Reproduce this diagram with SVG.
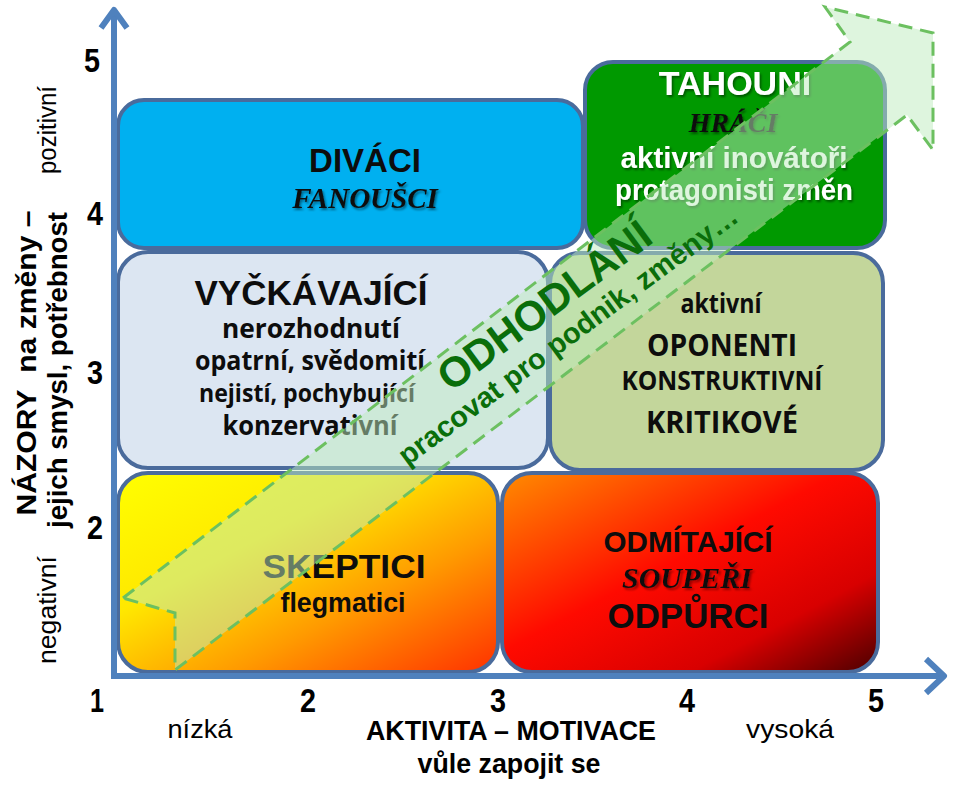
<svg xmlns="http://www.w3.org/2000/svg" width="960" height="792" viewBox="0 0 960 792">
<defs>
<linearGradient id="gSk" x1="0" y1="0" x2="1" y2="1">
<stop offset="0" stop-color="#ffff00"/>
<stop offset="0.35" stop-color="#ffe800"/>
<stop offset="0.65" stop-color="#ff9a00"/>
<stop offset="1" stop-color="#ff3000"/>
</linearGradient>
<linearGradient id="gOd" x1="0" y1="0" x2="1" y2="1">
<stop offset="0" stop-color="#ff8c00"/>
<stop offset="0.45" stop-color="#ff0a00"/>
<stop offset="0.75" stop-color="#d80000"/>
<stop offset="1" stop-color="#4a0000"/>
</linearGradient>
<filter id="sh" x="-10%" y="-30%" width="130%" height="170%">
<feDropShadow dx="1.5" dy="2" stdDeviation="1" flood-color="#000" flood-opacity="0.45"/>
</filter>
<filter id="shr" x="-10%" y="-30%" width="130%" height="170%">
<feDropShadow dx="2" dy="2" stdDeviation="1" flood-color="#800000" flood-opacity="0.8"/>
</filter>
</defs>
<style>
.box{stroke:#4a6b9c;stroke-width:4}
.ar{font-family:"Liberation Sans",Arial,sans-serif;font-weight:bold;text-anchor:middle;fill:#0d0d0d}
.ca{font-family:"Open Sans","Liberation Sans",sans-serif;font-weight:bold;text-anchor:middle;fill:#0d0d0d}
.tm{font-family:"Liberation Serif","Times New Roman",serif;font-weight:bold;font-style:italic;text-anchor:middle;fill:#111}
.wh{fill:#ffffff}
.ax{fill:none;stroke:#4f81bd;stroke-width:6;stroke-linejoin:round}
.num{font-family:"Liberation Sans",Arial,sans-serif;font-weight:bold;font-size:34px;text-anchor:middle;fill:#000}
.lab{font-family:"Liberation Sans",Arial,sans-serif;font-size:25px;text-anchor:middle;fill:#000}
.labb{font-family:"Liberation Sans",Arial,sans-serif;font-size:27px;font-weight:bold;text-anchor:middle;fill:#000}
.dg{font-family:"Liberation Sans",Arial,sans-serif;font-weight:bold;text-anchor:middle;fill:#0a6e0a}
</style>

<g id="divaci">
<rect class="box" x="118" y="100" width="465" height="148" rx="26" fill="#00b0f0"/>
<text class="ar" x="365" y="172" font-size="33">DIVÁCI</text>
<text class="tm" x="365" y="208" font-size="29" filter="url(#sh)">FANOUŠCI</text>
</g>

<g id="tahouni">
<rect class="box" x="585" y="62" width="300" height="186" rx="28" fill="#009900"/>
<text class="ar wh" x="735" y="95" font-size="34" filter="url(#sh)">TAHOUNI</text>
<text class="tm" x="733" y="132" font-size="28" filter="url(#sh)">HRÁČI</text>
<text class="ar wh" x="734" y="168" font-size="29" textLength="227" lengthAdjust="spacingAndGlyphs" filter="url(#sh)">aktivní inovátoři</text>
<text class="ar wh" x="734" y="200" font-size="29" textLength="238" lengthAdjust="spacingAndGlyphs" filter="url(#sh)">protagonisti změn</text>
</g>

<g id="vyckavajici">
<rect class="box" x="118" y="252" width="430" height="216" rx="30" fill="#dce6f2"/>
<text class="ar" x="311" y="305" font-size="35" textLength="233" lengthAdjust="spacingAndGlyphs">VYČKÁVAJÍCÍ</text>
<text class="ca" x="311" y="338" font-size="26" textLength="178" lengthAdjust="spacingAndGlyphs">nerozhodnutí</text>
<text class="ca" x="310" y="370" font-size="26" textLength="230" lengthAdjust="spacingAndGlyphs">opatrní, svědomití</text>
<text class="ca" x="307" y="402" font-size="25" textLength="216" lengthAdjust="spacingAndGlyphs">nejistí, pochybující</text>
<text class="ca" x="310" y="435" font-size="26" textLength="175" lengthAdjust="spacingAndGlyphs">konzervativní</text>
</g>

<g id="oponenti">
<rect class="box" x="550" y="253" width="333" height="217" rx="30" fill="#c3d69b"/>
<text class="ca" x="721" y="313" font-size="26" textLength="81" lengthAdjust="spacingAndGlyphs">aktivní</text>
<text class="ca" x="722" y="356" font-size="31" textLength="150" lengthAdjust="spacingAndGlyphs">OPONENTI</text>
<text class="ca" x="722" y="390" font-size="26" textLength="201" lengthAdjust="spacingAndGlyphs">KONSTRUKTIVNÍ</text>
<text class="ca" x="722" y="433" font-size="31" textLength="152" lengthAdjust="spacingAndGlyphs">KRITIKOVÉ</text>
</g>

<g id="skeptici">
<rect class="box" x="118" y="473" width="380" height="199" rx="30" fill="url(#gSk)"/>
<text class="ar" x="344" y="578" font-size="34" textLength="163" lengthAdjust="spacingAndGlyphs">SKEPTICI</text>
<text class="ar" x="343" y="612" font-size="27" textLength="125" lengthAdjust="spacingAndGlyphs">flegmatici</text>
</g>

<g id="odmitajici">
<rect class="box" x="502" y="473" width="376" height="199" rx="30" fill="url(#gOd)"/>
<text class="ar" x="688" y="552" font-size="30" textLength="169" lengthAdjust="spacingAndGlyphs">ODMÍTAJÍCÍ</text>
<text class="tm" x="687" y="588" font-size="30" filter="url(#shr)">SOUPEŘI</text>
<text class="ar" x="688" y="628" font-size="35" textLength="161" lengthAdjust="spacingAndGlyphs">ODPŮRCI</text>
</g>

<g id="axes">
<path class="ax" d="M114,676 V10"/>
<path class="ax" d="M101,28 L114,10 L127,28"/>
<path class="ax" d="M111,676 H944"/>
<path class="ax" d="M926,659 L944,676 L926,693"/>
</g>

<g id="axis-labels">
<text class="num" x="92" y="72" textLength="16" lengthAdjust="spacingAndGlyphs">5</text>
<text class="num" x="95" y="225" textLength="16" lengthAdjust="spacingAndGlyphs">4</text>
<text class="num" x="95" y="384" textLength="16" lengthAdjust="spacingAndGlyphs">3</text>
<text class="num" x="95" y="539" textLength="16" lengthAdjust="spacingAndGlyphs">2</text>
<text class="num" x="97" y="712" textLength="14" lengthAdjust="spacingAndGlyphs">1</text>
<text class="num" x="308" y="712" textLength="16" lengthAdjust="spacingAndGlyphs">2</text>
<text class="num" x="498" y="712" textLength="16" lengthAdjust="spacingAndGlyphs">3</text>
<text class="num" x="687" y="712" textLength="16" lengthAdjust="spacingAndGlyphs">4</text>
<text class="num" x="876" y="712" textLength="16" lengthAdjust="spacingAndGlyphs">5</text>
<text class="lab" x="200" y="738" textLength="65" lengthAdjust="spacingAndGlyphs">nízká</text>
<text class="labb" x="511" y="740" textLength="290" lengthAdjust="spacingAndGlyphs">AKTIVITA – MOTIVACE</text>
<text class="labb" x="509" y="773" textLength="183" lengthAdjust="spacingAndGlyphs">vůle zapojit se</text>
<text class="lab" x="790" y="738" textLength="88" lengthAdjust="spacingAndGlyphs">vysoká</text>
<text class="lab" transform="translate(56,130) rotate(-90)" textLength="88" lengthAdjust="spacingAndGlyphs">pozitivní</text>
<text class="lab" transform="translate(56,610) rotate(-90)" textLength="108" lengthAdjust="spacingAndGlyphs">negativní</text>
<text class="labb" font-size="28" transform="translate(36,363) rotate(-90)" textLength="305" lengthAdjust="spacingAndGlyphs">NÁZORY&#160; na změny –</text>
<text class="labb" font-size="28" transform="translate(67,370) rotate(-90)" textLength="316" lengthAdjust="spacingAndGlyphs">jejich smysl, potřebnost</text>
</g>

<g id="odhodlani">
<polygon points="123,598 850,42 825,7 933,33 933,150 907,115 175,670 175,613" fill="rgb(190,235,190)" fill-opacity="0.5" stroke="#6cc060" stroke-width="3" stroke-dasharray="14 8"/>
<g transform="translate(544,305) rotate(-36.5)"><text class="dg" x="0" y="15" font-size="42">ODHODLÁNÍ</text></g>
<g transform="translate(569,337) rotate(-36.5)"><text class="dg" x="0" y="8" font-size="29">pracovat pro podnik, změny…</text></g>
</g>
</svg>
